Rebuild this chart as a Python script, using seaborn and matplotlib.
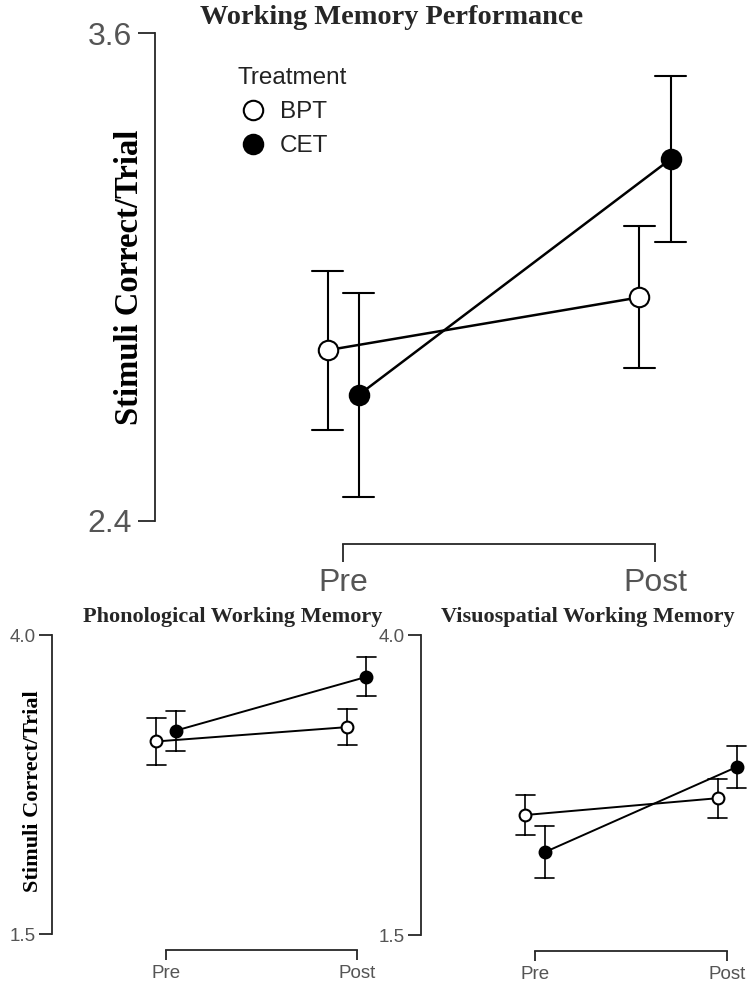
import pandas as pd
import seaborn as sns
import matplotlib.pyplot as plt
from matplotlib.lines import Line2D

# =========================
# DATA (means +/- standard error)
# =========================
sessions = ["Pre", "Post"]
groups = ["BPT", "CET"]

wm_bpt_mean = [2.82, 2.95]
wm_bpt_se = [0.195, 0.175]
wm_cet_mean = [2.71, 3.29]
wm_cet_se = [0.25, 0.205]

phon_bpt_mean = [3.11, 3.23]
phon_bpt_se = [0.20, 0.15]
phon_cet_mean = [3.20, 3.65]
phon_cet_se = [0.167, 0.163]

visuo_bpt_mean = [2.50, 2.64]
visuo_bpt_se = [0.17, 0.164]
visuo_cet_mean = [2.19, 2.90]
visuo_cet_se = [0.215, 0.178]

W, H = 754, 988
TICK_COLOR = "#555555"
SERIF = "Liberation Serif"


def long_table(bpt_mean, bpt_se, cet_mean, cet_se):
    # two rows per cell (mean-se, mean+se) -> mean is the estimate, min/max the error bar
    rows = []
    for grp, means, ses in [("BPT", bpt_mean, bpt_se), ("CET", cet_mean, cet_se)]:
        for sess, m, s in zip(sessions, means, ses):
            rows.append({"session": sess, "group": grp, "value": m - s})
            rows.append({"session": sess, "group": grp, "value": m + s})
    return pd.DataFrame(rows)


def px_axes(fig, left, top, right, bottom):
    # rectangle given in pixels from the top-left corner
    return fig.add_axes([left / W, 1 - bottom / H, (right - left) / W, (bottom - top) / H])


def draw_panel(ax, df, ylim, xlim, ms, lw, elw, tick_fs, ytick_len, xtick_len, x_offset,
               ypad, xpad):
    sns.pointplot(
        data=df, x="session", y="value", hue="group",
        order=sessions, hue_order=groups,
        palette=["black", "black"], markers=["o", "o"],
        dodge=0.1, estimator="mean",
        errorbar=lambda v: (v.min(), v.max()),
        capsize=0.1, linewidth=lw,
        err_kws={"linewidth": elw, "color": "black"},
        markersize=ms, markeredgewidth=1.5,
        legend=False, ax=ax,
    )
    pts = [l for l in ax.lines if l.get_marker() == "o"]
    pts[0].set_markerfacecolor("white")
    for l in pts:
        l.set_zorder(4)

    ax.set_xlim(*xlim)
    ax.set_ylim(*ylim)
    ax.set_yticks(list(ylim))
    ax.set_yticklabels([f"{v:.1f}" for v in ylim])
    ax.set_xlabel("")
    ax.set_ylabel("")
    sns.despine(ax=ax)
    ax.spines["bottom"].set_position(("outward", x_offset))
    ax.spines["bottom"].set_bounds(0, 1)
    ax.spines["left"].set_linewidth(1.3)
    ax.spines["bottom"].set_linewidth(1.3)
    ax.tick_params(axis="y", length=ytick_len, width=1.3, labelsize=tick_fs,
                   labelcolor=TICK_COLOR, pad=ypad)
    ax.tick_params(axis="x", length=xtick_len, width=1.3, labelsize=tick_fs,
                   labelcolor=TICK_COLOR, pad=xpad)


sns.set_style("ticks")
plt.rcParams["font.family"] = ["Liberation Sans", "DejaVu Sans"]

fig = plt.figure(figsize=(W / 100, H / 100), dpi=100)

# =========================
# MAIN PANEL
# =========================
ax_main = px_axes(fig, 155, 33, 700, 521)
draw_panel(ax_main, long_table(wm_bpt_mean, wm_bpt_se, wm_cet_mean, wm_cet_se),
           ylim=(2.4, 3.6), xlim=(-0.603, 1.144), ms=14, lw=1.8, elw=1.5,
           tick_fs=23, ytick_len=12, xtick_len=13, x_offset=16.5, ypad=4.3, xpad=4.5)
ax_main.set_ylabel("Stimuli Correct/Trial", fontfamily=SERIF, fontweight="bold",
                   fontsize=23.5, color="black")
ax_main.yaxis.set_label_coords(-0.018, 0.5)

handles = [
    Line2D([], [], linestyle="none", marker="o", markersize=14, markeredgewidth=1.5,
           markerfacecolor="white", markeredgecolor="black"),
    Line2D([], [], linestyle="none", marker="o", markersize=14, markeredgewidth=1.5,
           markerfacecolor="black", markeredgecolor="black"),
]
leg = ax_main.legend(handles, groups, title="Treatment", frameon=False,
                     loc="upper left", bbox_to_anchor=(237 / W, 1 - 67 / H),
                     bbox_transform=fig.transFigure, borderpad=0, borderaxespad=0,
                     fontsize=17.5, title_fontsize=17.5, handlelength=1.3,
                     handletextpad=0.45, labelspacing=0.5, alignment="left")
for t in leg.get_texts():
    t.set_color("#222222")
leg.get_title().set_color("#222222")

fig.text(392 / W, 1 - 17 / H, "Working Memory Performance", ha="center", va="center",
         fontfamily=SERIF, fontweight="bold", fontsize=20.4)

# =========================
# LOWER PANELS
# =========================
ax_phon = px_axes(fig, 52, 635, 385, 934)
draw_panel(ax_phon, long_table(phon_bpt_mean, phon_bpt_se, phon_cet_mean, phon_cet_se),
           ylim=(1.5, 4.0), xlim=(-0.597, 1.147), ms=8.5, lw=1.4, elw=1.2,
           tick_fs=13.5, ytick_len=9.5, xtick_len=7, x_offset=11.5, ypad=2, xpad=4)
ax_phon.set_ylabel("Stimuli Correct/Trial", fontfamily=SERIF, fontweight="bold",
                   fontsize=16, color="black")
ax_phon.yaxis.set_label_coords(-0.027, 0.477)

ax_visuo = px_axes(fig, 421, 635, 754, 935)
draw_panel(ax_visuo, long_table(visuo_bpt_mean, visuo_bpt_se, visuo_cet_mean, visuo_cet_se),
           ylim=(1.5, 4.0), xlim=(-0.594, 1.14), ms=8.5, lw=1.4, elw=1.2,
           tick_fs=13.5, ytick_len=9.5, xtick_len=7, x_offset=11.5, ypad=2, xpad=4)

fig.text(233 / W, 1 - 617 / H, "Phonological Working Memory", ha="center", va="center",
         fontfamily=SERIF, fontweight="bold", fontsize=16)
fig.text(588 / W, 1 - 617 / H, "Visuospatial Working Memory", ha="center", va="center",
         fontfamily=SERIF, fontweight="bold", fontsize=16)

plt.savefig("out.png", dpi=100)
